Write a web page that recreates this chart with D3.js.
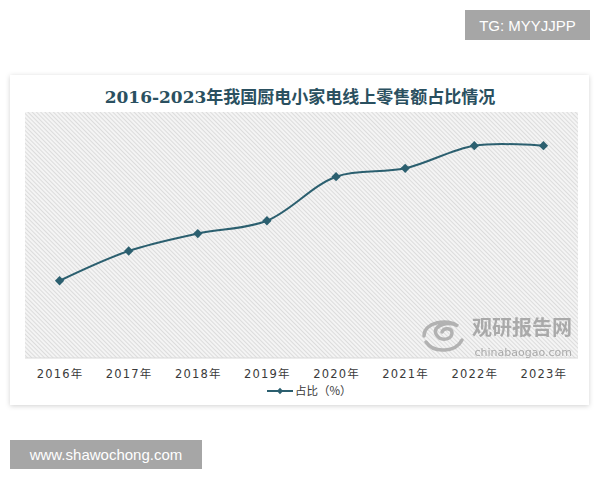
<!DOCTYPE html>
<html>
<head>
<meta charset="utf-8">
<script src="https://cdn.jsdelivr.net/npm/d3@7"></script>
<style>
  html, body { margin: 0; padding: 0; background: #fff; }
</style>
</head>
<body>
<div id="chart"></div>
<script>
const title = "2016-2023年我国厨电小家电线上零售额占比情况";
const years = ["2016年", "2017年", "2018年", "2019年", "2020年", "2021年", "2022年", "2023年"];
const share = [31.4, 43.5, 50.6, 55.8, 73.7, 77.1, 86.3, 86.3];
const seriesName = "占比（%）";

const width = 600;
const height = 480;
const plot = { left: 25, right: 578, top: 112, bottom: 358 };
const lineColor = "#2b5f6f";

const svg = d3.select("#chart").append("svg")
  .attr("width", width)
  .attr("height", height)
  .attr("viewBox", [0, 0, width, height]);

const defs = svg.append("defs");

const hatch = defs.append("pattern")
  .attr("id", "hatch")
  .attr("patternUnits", "userSpaceOnUse")
  .attr("width", 3)
  .attr("height", 3)
  .attr("patternTransform", "rotate(-45)");
hatch.append("rect").attr("width", 3).attr("height", 3).attr("fill", "#f4f4f4");
hatch.append("line")
  .attr("x1", 0).attr("y1", 0).attr("x2", 0).attr("y2", 3)
  .attr("stroke", "#cdcdcd").attr("stroke-width", 1.2);

const shadow = defs.append("filter").attr("id", "shadow")
  .attr("x", "-5%").attr("y", "-5%").attr("width", "110%").attr("height", "115%");
shadow.append("feDropShadow")
  .attr("dx", 0).attr("dy", 1).attr("stdDeviation", 2.5)
  .attr("flood-color", "#000").attr("flood-opacity", 0.18);

// card
svg.append("rect")
  .attr("x", 10).attr("y", 75)
  .attr("width", 579).attr("height", 330)
  .attr("fill", "#fff")
  .attr("filter", "url(#shadow)");

svg.append("text")
  .attr("x", 300)
  .attr("y", 103)
  .attr("text-anchor", "middle")
  .attr("font-family", "'DejaVu Serif', 'Noto Sans CJK SC', serif")
  .attr("font-weight", "bold")
  .attr("font-size", "17px")
  .attr("fill", "#2a5060")
  .text(title);

// plot background
svg.append("rect")
  .attr("x", plot.left).attr("y", plot.top)
  .attr("width", plot.right - plot.left)
  .attr("height", plot.bottom - plot.top)
  .attr("fill", "url(#hatch)");

svg.append("line")
  .attr("x1", plot.left).attr("x2", plot.right)
  .attr("y1", plot.bottom).attr("y2", plot.bottom)
  .attr("stroke", "#d9d9d9");

// watermark
const wm = svg.append("g").attr("opacity", 0.9);
wm.append("text")
  .attr("x", 572).attr("y", 335)
  .attr("text-anchor", "end")
  .attr("font-family", "'Noto Sans CJK SC', sans-serif")
  .attr("font-weight", "bold")
  .attr("font-size", "20px")
  .attr("fill", "#a3a3a3")
  .text("观研报告网");
wm.append("text")
  .attr("x", 572).attr("y", 356)
  .attr("text-anchor", "end")
  .attr("font-family", "'DejaVu Sans', sans-serif")
  .attr("font-size", "11px")
  .attr("fill", "#a3a3a3")
  .text("chinabaogao.com");
wm.append("path")
  .attr("d", "M424,336 C424,322 448,318 458,326 C448,320 432,326 436,334 C440,342 452,340 452,333 C452,328 444,327 442,332 M426,342 C434,354 456,352 462,340")
  .attr("fill", "none")
  .attr("stroke", "#acacac")
  .attr("stroke-width", 3.5)
  .attr("stroke-linecap", "round");

// scales
const x = d3.scalePoint()
  .domain(years)
  .range([plot.left, plot.right])
  .padding(0.5);

const y = d3.scaleLinear()
  .domain([0, 100])
  .range([plot.bottom, plot.top]);

const xAxis = d3.axisBottom(x).tickSize(0).tickPadding(0);
svg.append("g")
  .attr("transform", `translate(0, ${plot.bottom + 12})`)
  .call(xAxis)
  .call(g => g.select(".domain").remove())
  .selectAll("text")
    .attr("font-family", "'DejaVu Sans', 'Noto Sans CJK SC', sans-serif")
    .attr("font-size", "11.5px")
    .attr("letter-spacing", "1.2px")
    .attr("fill", "#3a3a3a");

const line = d3.line()
  .x((d, i) => x(years[i]))
  .y(d => y(d))
  .curve(d3.curveCatmullRom.alpha(0.5));

svg.append("path")
  .datum(share)
  .attr("fill", "none")
  .attr("stroke", lineColor)
  .attr("stroke-width", 2)
  .attr("d", line);

const diamond = d3.symbol().type(d3.symbolDiamond2).size(55);

svg.append("g")
  .selectAll("path")
  .data(share)
  .join("path")
    .attr("transform", (d, i) => `translate(${x(years[i])}, ${y(d)})`)
    .attr("d", diamond)
    .attr("fill", lineColor);

// legend
const legend = svg.append("g").attr("transform", "translate(267, 391)");
legend.append("line")
  .attr("x1", 0).attr("x2", 26)
  .attr("stroke", lineColor).attr("stroke-width", 2);
legend.append("path")
  .attr("transform", "translate(13, 0)")
  .attr("d", d3.symbol().type(d3.symbolDiamond2).size(25))
  .attr("fill", lineColor);
legend.append("text")
  .attr("x", 28).attr("y", 4)
  .attr("font-family", "'Noto Sans CJK SC', sans-serif")
  .attr("font-size", "11.5px")
  .attr("fill", "#3a3a3a")
  .text(seriesName);

// corner tags
svg.append("rect")
  .attr("x", 465).attr("y", 10).attr("width", 125).attr("height", 30)
  .attr("fill", "#a6a6a6");
svg.append("text")
  .attr("x", 527.5).attr("y", 30.5)
  .attr("text-anchor", "middle")
  .attr("font-family", "'Liberation Sans', Arial, sans-serif")
  .attr("font-size", "15px")
  .attr("fill", "#fff")
  .text("TG: MYYJJPP");

svg.append("rect")
  .attr("x", 10).attr("y", 440).attr("width", 192).attr("height", 29)
  .attr("fill", "#a6a6a6");
svg.append("text")
  .attr("x", 106).attr("y", 460)
  .attr("text-anchor", "middle")
  .attr("font-family", "'Liberation Sans', Arial, sans-serif")
  .attr("font-size", "15px")
  .attr("fill", "#fff")
  .text("www.shawochong.com");
</script>
</body>
</html>
